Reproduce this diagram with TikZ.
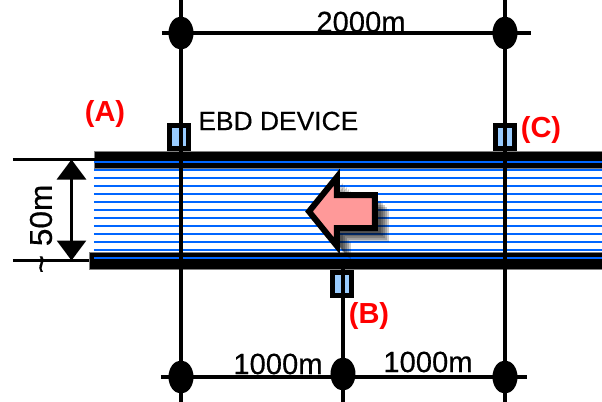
\documentclass[tikz,border=0pt]{standalone}
\usepackage{fontspec}
\setmainfont{Liberation Sans}
\newfontfamily\heavyfont[FakeBold=0.4]{Liberation Sans}
\usepackage{xcolor}
\usetikzlibrary{arrows.meta,shapes}
\definecolor{stripeblue}{HTML}{0066FF}
\definecolor{devblue}{HTML}{99CCFF}
\definecolor{flowpink}{HTML}{FF9999}
\tikzset{
	pole/.style={ellipse,fill=black,inner sep=0pt,minimum width=12.5pt,minimum height=16.5pt},
	device/.style={draw=black,line width=2.5pt,fill=devblue,inner sep=0pt,minimum width=9.5pt,minimum height=11.5pt},
	road/.style={fill=black,draw=gray,line width=0.4pt},
	lbl/.style={inner sep=0pt,font=\heavyfont\fontsize{14.6}{14.6}\selectfont},
	tag/.style={inner sep=0pt,text=red,font=\fontsize{14.5}{14.5}\selectfont\bfseries}
}
\newcommand{\flowshape}{(309,211.5) -- (337,177) -- (337,195) -- (375,195) -- (375,228) -- (337,228) -- (337,246) -- cycle}
\begin{document}
\begin{tikzpicture}[x=0.5pt,y=-0.5pt]
		\useasboundingbox (0,0) rectangle (602,402);
		% road and water
		\draw[road] (94,151) rectangle (602,168);
		\draw[road] (89,252) rectangle (602,269);
		\foreach \y in {162,170,...,258}
			\draw[stripeblue,line width=1pt] (94,\y) -- (602,\y);
		%
		\coordinate (TL) at (13,159.5);
		\coordinate (TR) at (103,159.5);
		\coordinate (BL) at (13,260.5);
		\coordinate (BR) at (89,260.5);
		\coordinate (DT) at (71.5,159.5);
		\coordinate (DB) at (71.5,260.5);
		\path[line width=1.25pt]
		(TL) edge (TR)
		(BL) edge (BR);
		\path[line width=1.5pt,{Triangle[length=10pt,width=14.5pt]}-{Triangle[length=10pt,width=14.5pt]}]
		(DT) edge (DB);
		%
		\node[device] (devA) at (179,137) {};
		\node[device] (devC) at (505,137) {};
		\node[device] (devB) at (342,283.5) {};
		%
		\node[pole] (P1) at (181,33) {};
		\node[pole] (P2) at (505,33) {};
		\node[pole] (P3) at (181,377) {};
		\node[pole] (P4) at (343,374) {};
		\node[pole] (P5) at (505,377) {};
		\coordinate (P1t) at (181,0);
		\coordinate (P2t) at (505,0);
		\coordinate (P3b) at (181,402);
		\coordinate (P4b) at (343,402);
		\coordinate (P5b) at (505,402);
		\coordinate (P4t) at (343,268);
		\coordinate (H1) at (162,33);
		\coordinate (H2) at (531,33);
		\coordinate (H3) at (161,377);
		\coordinate (H4) at (527,377);
		%
		\path[line width=2pt]
		(P1t) edge (P3b)
		(P2t) edge (P5b)
		(P4t) edge (P4b)
		(H1) edge (H2)
		(H3) edge (H4);
		% flow arrow, shadow first
		\foreach \d in {6,8,10,12,14}
			\fill[black,opacity=0.2,xshift=\d*0.5pt,yshift=-\d*0.5pt] \flowshape;
		\draw[fill=flowpink,line width=3pt,miter limit=10] \flowshape;
		%
		\node[lbl] (len) at (361,22) {2000m};
		\node[lbl] (lenL) at (278,364) {1000m};
		\node[lbl] (lenR) at (428,362) {1000m};
		\node[lbl,anchor=west,font=\heavyfont\fontsize{13.2}{13.2}\selectfont] (ebd) at (198,121) {EBD DEVICE};
		\node[lbl,rotate=90,font=\heavyfont\fontsize{15.8}{15.8}\selectfont] (wid) at (41,229) {\char`\~\ 50m};
		\node[tag] (tagA) at (105,114) {(A)};
		\node[tag] (tagB) at (369,316) {(B)};
		\node[tag] (tagC) at (541,130) {(C)};
		\end{tikzpicture}
\end{document}
